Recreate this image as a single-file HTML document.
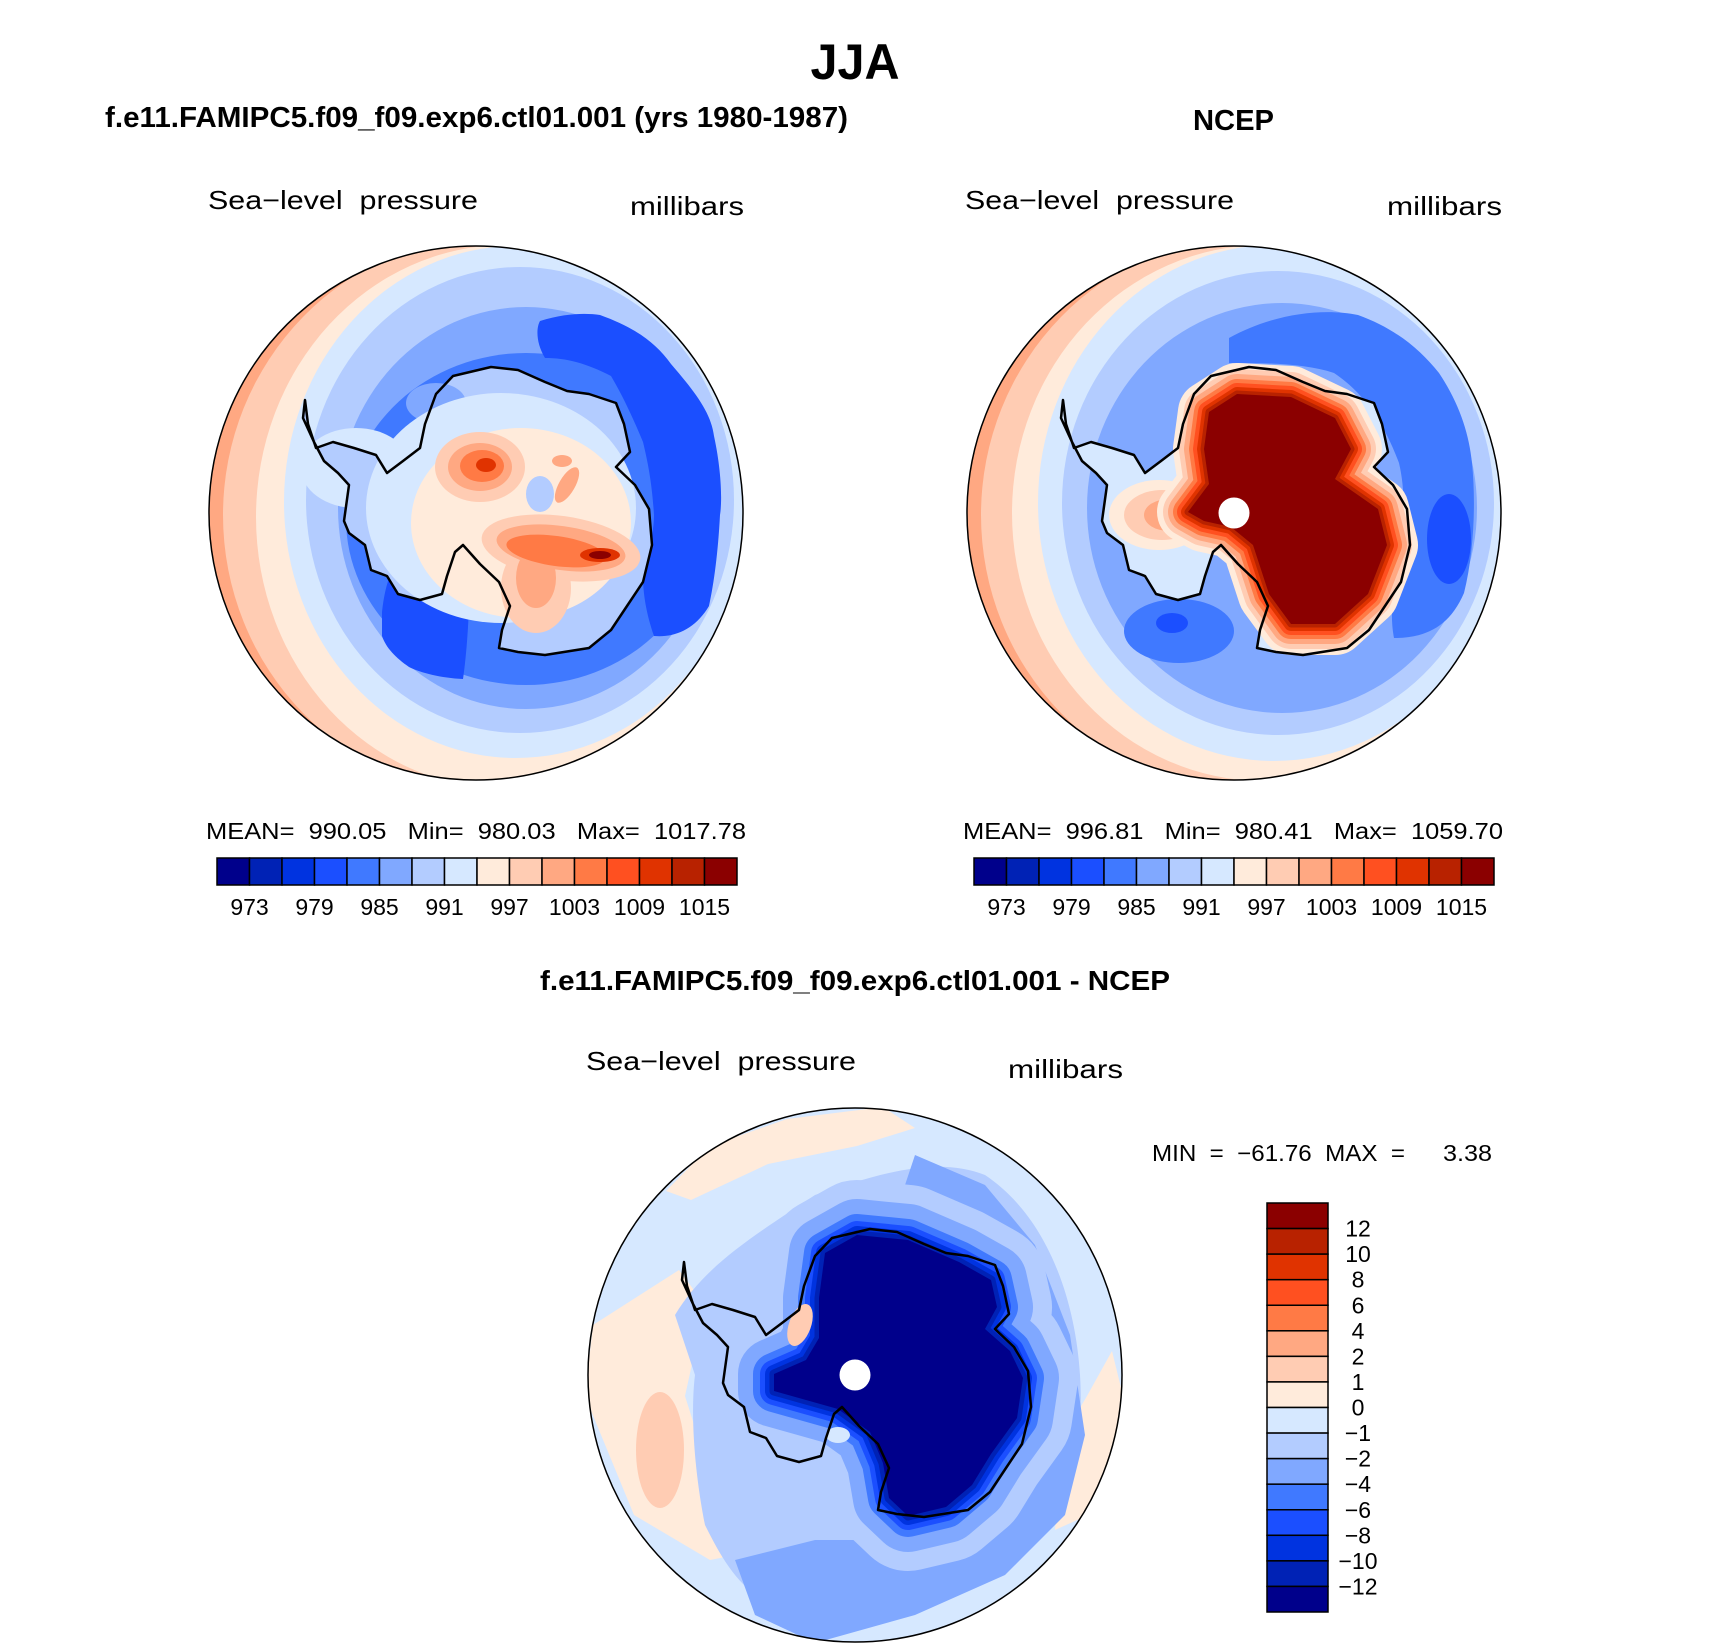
<!DOCTYPE html>
<html><head><meta charset="utf-8"><style>
html,body{margin:0;padding:0;background:#fff}
svg{display:block}
text{white-space:pre}
.b{font-family:"Liberation Sans",sans-serif;font-weight:bold;fill:#000}
.t{font-family:"Liberation Sans",sans-serif;fill:#000}
</style></head><body>
<svg id="fig" xmlns="http://www.w3.org/2000/svg" xml:space="preserve" width="1710" height="1649" viewBox="0 0 1710 1649">
<defs>
<clipPath id="cc"><circle cx="0" cy="0" r="267"/></clipPath>
<path id="coast" d="M-171,-113 L-168,-89 -160,-65 -143,-71 -122,-65 -100,-58 -89,-40 -73,-52 -56,-65 -51,-89 -40,-119 -23,-137 15,-146 42,-143 69,-131 91,-122 113,-119 140,-110 148,-89 154,-61 140,-46 159,-28 173,-4 176,32 167,69 151,93 135,117 113,135 69,142 42,139 23,135 26,117 34,93 23,69 4,51 -13,32 -21,39 -29,63 -34,81 -56,87 -78,81 -89,63 -105,57 -111,32 -127,20 -132,8 -127,-28 -138,-40 -152,-52 -162,-71 -173,-95 Z"/>
<path id="ncepcore" d="M-25,-101 L3,-119 57,-116 101,-95 117,-64 101,-34 144,-4 153,32 134,81 101,111 57,111 35,81 19,32 -3,14 -30,8 -46,-1 -25,-29 -30,-64 Z"/>
<path id="diffcore" d="M-30,-122 L2,-140 53,-135 104,-113 136,-95 142,-68 130,-46 155,-24 168,3 162,43 136,79 117,110 91,132 53,141 34,123 28,88 15,57 -17,34 -49,25 -81,16 -81,-1 -49,-15 -36,-37 -36,-77 Z"/>
</defs>

<text class="b" x="855" y="79" font-size="50" text-anchor="middle" textLength="89" lengthAdjust="spacingAndGlyphs">JJA</text>
<text class="b" x="105" y="127" font-size="29" textLength="743" lengthAdjust="spacingAndGlyphs">f.e11.FAMIPC5.f09_f09.exp6.ctl01.001 (yrs 1980-1987)</text>
<text class="b" x="1193" y="130" font-size="29" textLength="81" lengthAdjust="spacingAndGlyphs">NCEP</text>
<text class="t" x="208" y="209" font-size="26" textLength="270" lengthAdjust="spacingAndGlyphs">Sea−level  pressure</text>
<text class="t" x="630" y="215" font-size="26" textLength="114" lengthAdjust="spacingAndGlyphs">millibars</text>
<text class="t" x="965" y="209" font-size="26" textLength="269" lengthAdjust="spacingAndGlyphs">Sea−level  pressure</text>
<text class="t" x="1387" y="215" font-size="26" textLength="115" lengthAdjust="spacingAndGlyphs">millibars</text>

<!-- MAP 1 : model -->
<g transform="translate(476,513)">
<g clip-path="url(#cc)">
<circle r="267" fill="#FFA882"/>
<ellipse cx="20" cy="2" rx="273" ry="280" fill="#FFCCB3"/>
<ellipse cx="30" cy="4" rx="250" ry="272" fill="#FFEBDB"/>
<ellipse cx="40" cy="-11" rx="232" ry="256" fill="#D6E8FF"/>
<ellipse cx="44" cy="-13" rx="214" ry="233" fill="#B3CCFF"/>
<ellipse cx="50" cy="-5" rx="188" ry="201" fill="#80A8FF"/>
<ellipse cx="50" cy="6" rx="180" ry="166" fill="#4079FF"/>
<path fill="#1B4FFF" d="M64,-192 C90,-200 110,-200 124,-198 C160,-185 180,-170 195,-149 C220,-120 235,-100 238,-77 C246,-40 246,-10 244,2 C242,40 238,70 233,93 C220,115 200,125 178,123 C170,100 167,80 167,63 C172,40 178,20 178,2 C176,-30 172,-50 167,-71 C155,-100 145,-120 135,-137 C110,-150 90,-155 69,-155 C60,-170 60,-185 64,-192 Z"/>
<path fill="#1B4FFF" d="M-94,99 C-92,80 -88,65 -83,57 C-60,52 -45,50 -29,51 C-15,65 -9,80 -7,93 C-8,120 -10,145 -13,166 C-35,165 -55,160 -67,154 C-80,145 -90,135 -94,123 Z"/>
<ellipse cx="-120" cy="-45" rx="55" ry="40" fill="#D6E8FF"/>
<use href="#coast" fill="#B3CCFF"/>
<ellipse cx="-40" cy="-110" rx="30" ry="20" fill="#80A8FF"/>
<ellipse cx="25" cy="-5" rx="135" ry="115" fill="#D6E8FF"/>
<ellipse cx="45" cy="10" rx="110" ry="95" fill="#FFEBDB"/>
<ellipse cx="64" cy="-19" rx="14" ry="18" fill="#B3CCFF"/>
<ellipse cx="4" cy="-46" rx="45" ry="35" fill="#FFCCB3"/>
<ellipse cx="4" cy="-46" rx="32" ry="24" fill="#FFA882"/>
<ellipse cx="6" cy="-47" rx="22" ry="16" fill="#FF7A45"/>
<ellipse cx="10" cy="-48" rx="10" ry="7" fill="#E03300"/>
<ellipse cx="60" cy="75" rx="35" ry="45" fill="#FFCCB3"/>
<ellipse cx="85" cy="35" rx="80" ry="32" transform="rotate(8 85 35)" fill="#FFCCB3"/>
<ellipse cx="60" cy="65" rx="20" ry="30" fill="#FFA882"/>
<ellipse cx="85" cy="35" rx="65" ry="22" transform="rotate(8 85 35)" fill="#FFA882"/>
<ellipse cx="80" cy="38" rx="50" ry="15" transform="rotate(8 80 38)" fill="#FF7A45"/>
<ellipse cx="124" cy="42" rx="20" ry="7" fill="#E03300"/>
<ellipse cx="124" cy="42" rx="11" ry="4" fill="#8B0000"/>
<ellipse cx="91" cy="-28" rx="8" ry="20" transform="rotate(30 91 -28)" fill="#FFA882"/>
<ellipse cx="86" cy="-52" rx="10" ry="6" fill="#FFA882"/>
</g>
<use href="#coast" fill="none" stroke="#000" stroke-width="2.5" stroke-linejoin="round"/>
<circle r="267" fill="none" stroke="#000" stroke-width="1.5"/>
</g>

<!-- MAP 2 : NCEP -->
<g transform="translate(1234,513)">
<g clip-path="url(#cc)">
<circle r="267" fill="#FFA882"/>
<ellipse cx="20" cy="2" rx="273" ry="280" fill="#FFCCB3"/>
<ellipse cx="30" cy="0" rx="252" ry="268" fill="#FFEBDB"/>
<ellipse cx="40" cy="-10" rx="236" ry="258" fill="#D6E8FF"/>
<ellipse cx="44" cy="-10" rx="216" ry="232" fill="#B3CCFF"/>
<ellipse cx="48" cy="-5" rx="195" ry="205" fill="#80A8FF"/>
<path fill="#4079FF" d="M-5,-175 C40,-200 90,-205 124,-198 C160,-185 185,-165 205,-140 C225,-110 235,-80 238,-50 C242,-10 240,40 230,80 C215,115 190,125 160,125 C155,100 160,70 165,40 C170,10 172,-20 165,-50 C150,-90 130,-120 100,-140 C70,-150 30,-150 -5,-150 Z"/>
<ellipse cx="215" cy="26" rx="22" ry="45" fill="#1B4FFF"/>
<ellipse cx="-55" cy="118" rx="55" ry="32" fill="#4079FF"/>
<ellipse cx="-62" cy="110" rx="16" ry="10" fill="#1B4FFF"/>
<use href="#coast" fill="#D6E8FF"/>
<ellipse cx="-75" cy="2" rx="50" ry="35" fill="#FFEBDB"/>
<ellipse cx="-72" cy="2" rx="38" ry="25" fill="#FFCCB3"/>
<ellipse cx="-65" cy="2" rx="25" ry="16" fill="#FFA882"/>
<g fill="none" stroke-linejoin="round" stroke-linecap="round">
<use href="#ncepcore" stroke="#FFEBDB" stroke-width="62"/>
<use href="#ncepcore" stroke="#FFCCB3" stroke-width="50"/>
<use href="#ncepcore" stroke="#FFA882" stroke-width="40"/>
<use href="#ncepcore" stroke="#FF7A45" stroke-width="30"/>
<use href="#ncepcore" stroke="#FF5020" stroke-width="22"/>
<use href="#ncepcore" stroke="#E03300" stroke-width="14"/>
<use href="#ncepcore" stroke="#B82200" stroke-width="7"/>
</g>
<use href="#ncepcore" fill="#8B0000"/>
</g>
<use href="#coast" fill="none" stroke="#000" stroke-width="2.5" stroke-linejoin="round"/>
<circle r="15.5" fill="#fff"/>
<circle r="267" fill="none" stroke="#000" stroke-width="1.5"/>
</g>

<text class="t" x="206" y="839" font-size="23" textLength="540" lengthAdjust="spacingAndGlyphs">MEAN=  990.05   Min=  980.03   Max=  1017.78</text>
<text class="t" x="963" y="839" font-size="23" textLength="540" lengthAdjust="spacingAndGlyphs">MEAN=  996.81   Min=  980.41   Max=  1059.70</text>
<g id="cb1"></g>
<g id="cb2"></g>

<text class="b" x="540" y="990" font-size="28" textLength="630" lengthAdjust="spacingAndGlyphs">f.e11.FAMIPC5.f09_f09.exp6.ctl01.001 - NCEP</text>
<text class="t" x="586" y="1070" font-size="26" textLength="270" lengthAdjust="spacingAndGlyphs">Sea−level  pressure</text>
<text class="t" x="1008" y="1078" font-size="26" textLength="115" lengthAdjust="spacingAndGlyphs">millibars</text>
<text class="t" x="1152" y="1161" font-size="23" textLength="253" lengthAdjust="spacingAndGlyphs">MIN  =  −61.76  MAX  =</text>
<text class="t" x="1443" y="1161" font-size="23" textLength="49" lengthAdjust="spacingAndGlyphs">3.38</text>

<!-- MAP 3 : difference -->
<g transform="translate(855,1375)">
<g clip-path="url(#cc)">
<circle r="267" fill="#D6E8FF"/>
<path fill="#FFEBDB" d="M-189,-184 L-145,-229 -68,-256 28,-268 60,-247 2,-229 -87,-211 -164,-175 Z"/>
<path fill="#FFEBDB" d="M-262,-50 L-176,-105 -150,-70 -170,21 -135,132 -68,170 -145,185 -221,140 -270,21 Z"/>
<ellipse cx="-195" cy="75" rx="24" ry="58" fill="#FFCCB3"/>
<path fill="#FFEBDB" d="M257,-24 L268,21 251,132 200,155 206,65 232,21 Z"/>
<path fill="#B3CCFF" d="M-180,-60 C-150,-110 -100,-140 -40,-180 C20,-200 80,-220 130,-200 C190,-160 220,-80 225,0 C230,80 210,140 160,190 C100,230 20,250 -60,240 C-110,225 -130,190 -150,150 C-160,100 -165,40 -160,0 Z"/>
<path fill="#80A8FF" d="M60,-220 L130,-190 180,-130 215,-40 230,60 210,140 150,200 60,240 -40,268 -100,240 -120,185 -40,165 60,165 150,110 180,20 160,-80 110,-150 50,-190 Z"/>
<g fill="none" stroke-linejoin="round" stroke-linecap="round">
<use href="#diffcore" stroke="#B3CCFF" stroke-width="110"/>
<use href="#diffcore" stroke="#80A8FF" stroke-width="72"/>
<use href="#diffcore" stroke="#4079FF" stroke-width="42"/>
<use href="#diffcore" stroke="#1B4FFF" stroke-width="28"/>
<use href="#diffcore" stroke="#0033E0" stroke-width="18"/>
<use href="#diffcore" stroke="#0022B5" stroke-width="9"/>
</g>
<use href="#diffcore" fill="#00008B"/>
<ellipse cx="-55" cy="-50" rx="11" ry="22" transform="rotate(20 -55 -50)" fill="#FFCCB3"/>
<ellipse cx="-17" cy="60" rx="12" ry="8" fill="#D6E8FF"/>
</g>
<use href="#coast" fill="none" stroke="#000" stroke-width="2.5" stroke-linejoin="round"/>
<circle r="15.5" fill="#fff"/>
<circle r="267" fill="none" stroke="#000" stroke-width="1.5"/>
</g>
<g id="cb3"></g>
</svg>
<script>
const NS = "http://www.w3.org/2000/svg";
const colors = ["#00008B","#0022B5","#0033E0","#1B4FFF","#4079FF","#80A8FF","#B3CCFF","#D6E8FF","#FFEBDB","#FFCCB3","#FFA882","#FF7A45","#FF5020","#E03300","#B82200","#8B0000"];
const slpLabels = ["973","979","985","991","997","1003","1009","1015"];
const diffLabels = ["12","10","8","6","4","2","1","0","−1","−2","−4","−6","−8","−10","−12"];

function mk(tag, attrs, parent) {
  const e = document.createElementNS(NS, tag);
  for (const k in attrs) e.setAttribute(k, attrs[k]);
  parent.appendChild(e);
  return e;
}
function hbar(id, x0, x1, y0, y1) {
  const g = document.getElementById(id);
  const w = (x1 - x0) / colors.length;
  colors.forEach((c, i) => {
    const r = mk("rect", {x: x0 + i * w, y: y0, width: w, height: y1 - y0, fill: c, stroke: "#000", "stroke-width": 1.5}, g);
    
    
  });
  slpLabels.forEach((s, j) => {
    const bx = x0 + (2 * j + 1) * w;
    const t = mk("text", {x: bx, y: 915, "font-size": 23, "text-anchor": "middle", class: "t"}, g);
    t.textContent = s;
    
    
  });
}
hbar("cb1", 217, 737, 858, 885);
hbar("cb2", 974, 1494, 858, 885);
(function () {
  const g = document.getElementById("cb3");
  const x0 = 1267, x1 = 1328, y0 = 1203, y1 = 1612;
  const h = (y1 - y0) / colors.length;
  const rev = colors.slice().reverse();
  rev.forEach((c, i) => {
    const r = mk("rect", {x: x0, y: y0 + i * h, width: x1 - x0, height: h, fill: c, stroke: "#000", "stroke-width": 1.5}, g);
    
    
  });
  diffLabels.forEach((s, j) => {
    const by = y0 + (j + 1) * h;
    const t = mk("text", {x: 1358, y: by + 8, "font-size": 23, "text-anchor": "middle", class: "t"}, g);
    t.textContent = s;
    
    
  });
})();
</script>
</body></html>
